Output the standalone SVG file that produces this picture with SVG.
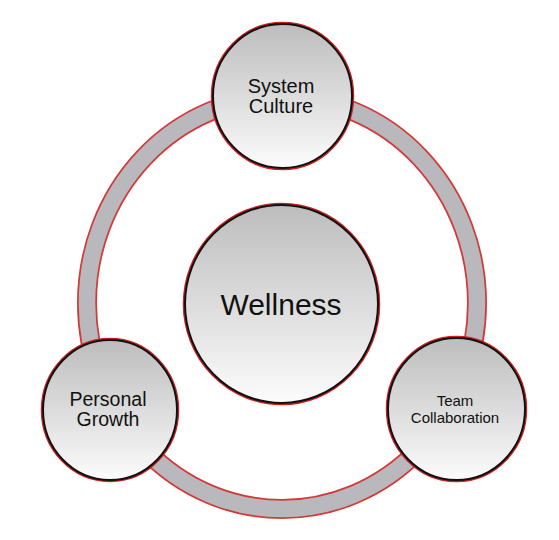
<svg xmlns="http://www.w3.org/2000/svg" width="559" height="540" viewBox="0 0 559 540">
  <defs>
    <linearGradient id="nodeFill" x1="0" y1="0" x2="0" y2="1">
      <stop offset="0" stop-color="#bdbdbd"/>
      <stop offset="0.5" stop-color="#dcdcdc"/>
      <stop offset="1" stop-color="#fcfcfc"/>
    </linearGradient>
  </defs>
  <style>
    .ringOuter { fill: none; stroke: #d23a3a; stroke-width: 20; }
    .ringInner { fill: none; stroke: #b9b9bd; stroke-width: 16.5; }
    .nodeRed { fill: none; stroke: #cc2020; stroke-width: 4.5; }
    .node { fill: url(#nodeFill); stroke: #111111; stroke-width: 2; }
    .label { font-family: "Liberation Sans", Arial, sans-serif; fill: #111111; text-anchor: middle; }
  </style>
  <rect width="559" height="540" fill="#ffffff"/>
  <g id="connectors">
    <ellipse class="ringOuter" cx="282" cy="303" rx="195" ry="206"/>
    <ellipse class="ringInner" cx="282" cy="303" rx="195" ry="206"/>
  </g>
  <g id="wellness">
    <ellipse class="nodeRed" cx="281.5" cy="304" rx="96.5" ry="99"/>
    <ellipse class="node" cx="281.5" cy="304" rx="96.5" ry="99"/>
    <text class="label" x="281" y="315" font-size="30">Wellness</text>
  </g>
  <g id="system-culture">
    <ellipse class="nodeRed" cx="282.5" cy="96" rx="69.5" ry="72"/>
    <ellipse class="node" cx="282.5" cy="96" rx="69.5" ry="72"/>
    <text class="label" x="281" y="93" font-size="20">System</text>
    <text class="label" x="281" y="113" font-size="20">Culture</text>
  </g>
  <g id="personal-growth">
    <ellipse class="nodeRed" cx="110" cy="410" rx="67" ry="70"/>
    <ellipse class="node" cx="110" cy="410" rx="67" ry="70"/>
    <text class="label" x="108" y="406" font-size="19.5">Personal</text>
    <text class="label" x="108" y="426" font-size="19.5">Growth</text>
  </g>
  <g id="team-collaboration">
    <ellipse class="nodeRed" cx="456.5" cy="409" rx="68.5" ry="71"/>
    <ellipse class="node" cx="456.5" cy="409" rx="68.5" ry="71"/>
    <text class="label" x="455" y="406" font-size="15">Team</text>
    <text class="label" x="455" y="423" font-size="15">Collaboration</text>
  </g>
</svg>
